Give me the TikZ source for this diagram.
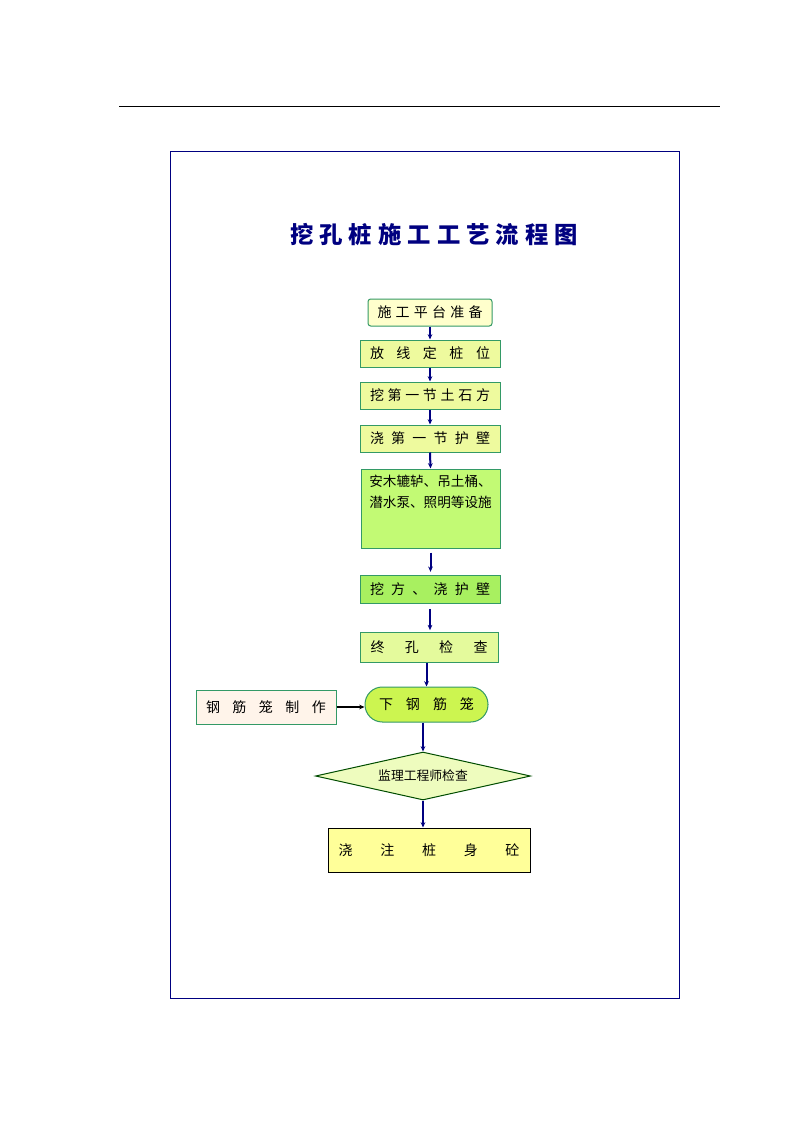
\documentclass[tikz,border=0pt]{standalone}
\usepackage{fontspec}
\newfontfamily\cjk{Noto Sans CJK SC}
\usetikzlibrary{arrows.meta}
\usetikzlibrary{shapes.geometric}
\definecolor{navy}{HTML}{000080}
\definecolor{boxline}{HTML}{339966}
\definecolor{paleyellow}{HTML}{FFFFCC}
\definecolor{limepale}{HTML}{EEFA9E}
\definecolor{limemid}{HTML}{C2FA74}
\definecolor{limedeep}{HTML}{A8F060}
\definecolor{limelight}{HTML}{E4FA9C}
\definecolor{limeoval}{HTML}{CCF550}
\definecolor{peach}{HTML}{FFF4EA}
\definecolor{limediamond}{HTML}{EEFCBE}
\definecolor{lemon}{HTML}{FFFF99}
\newcommand\spr[2]{\makebox[#1][s]{#2}}
\tikzset{
	procbox/.style={draw=boxline, line width=0.75pt, inner sep=0pt, fill=limepale,
		font=\cjk\fontsize{10.5pt}{12pt}\selectfont, minimum width=105pt, minimum height=20.25pt},
	flow/.style={draw=navy, line width=1.5pt, -{Stealth[length=4pt,width=3.5pt]}}
}

\begin{document}
\begin{tikzpicture}[x=0.75pt,y=-0.75pt]
		\useasboundingbox (0,0) rectangle (794,1123);
		\draw[line width=0.75pt] (119,107) -- (720,107);
		\draw[navy, line width=0.75pt] (170,152) rectangle (679,998);
		\node[text=navy, font=\cjk\bfseries\fontsize{17.5pt}{20pt}\selectfont] (Title) at (434,235)
			{\spr{216pt}{挖\hfill 孔\hfill 桩\hfill 施\hfill 工\hfill 工\hfill 艺\hfill 流\hfill 程\hfill 图}};
		\node[procbox, fill=paleyellow, rounded corners=2pt, minimum width=93pt] (Platform) at (430,312.5)
			{\spr{78.75pt}{施\hfill 工\hfill 平\hfill 台\hfill 准\hfill 备}};
		\node[procbox] (Layout) at (430,353.5) {\spr{90pt}{放\hfill 线\hfill 定\hfill 桩\hfill 位}};
		\node[procbox] (First dig) at (430,395.5) {\spr{90pt}{挖\hfill 第\hfill 一\hfill 节\hfill 土\hfill 石\hfill 方}};
		\node[procbox] (First wall) at (430,438.5) {\spr{90pt}{浇\hfill 第\hfill 一\hfill 节\hfill 护\hfill 壁}};
		\node[procbox, fill=limemid, minimum width=104.25pt, minimum height=59.25pt, inner ysep=4.5pt] (Facilities) at (430.5,508.5)
			{\parbox[c][50.25pt][t]{96pt}{\centering\fontsize{10.2pt}{15.75pt}\selectfont 安木辘轳、吊土桶、\\潜水泵、照明等设施}};
		\node[procbox, fill=limedeep, minimum height=21pt] (Dig wall) at (430,589)
			{\spr{90pt}{挖\hfill 方\hfill 、\hfill 浇\hfill 护\hfill 壁}};
		\node[procbox, fill=limelight, minimum width=103.5pt, minimum height=22.5pt] (Hole check) at (429,647)
			{\spr{87.75pt}{终\hfill 孔\hfill 检\hfill 查}};
		\node[procbox, fill=limeoval, rounded corners=13pt, minimum width=92.25pt, minimum height=26.25pt] (Lower cage) at (426.5,704.5)
			{\spr{71.25pt}{下\hfill 钢\hfill 筋\hfill 笼}};
		\node[procbox, fill=peach, minimum height=25.5pt] (Cage made) at (266,707)
			{\spr{90pt}{钢\hfill 筋\hfill 笼\hfill 制\hfill 作}};
		\node[procbox, diamond, draw=black!70!green, fill=limediamond, aspect=4.5, minimum width=161.25pt, minimum height=36pt,
			font=\cjk\fontsize{9.6pt}{12pt}\selectfont] (Inspect) at (423,776) {监理工程师检查};
		\node[procbox, draw=black, fill=lemon, minimum width=151.5pt, minimum height=33pt] (Pour) at (429,850)
			{\spr{135.75pt}{浇\hfill 注\hfill 桩\hfill 身\hfill 砼}};
		\draw[flow] (Platform.south) -- (Layout.north);
		\draw[flow] (Layout.south) -- (First dig.north);
		\draw[flow] (First dig.south) -- (First wall.north);
		\draw[flow] (First wall.south) -- (Facilities.north);
		\draw[flow, shorten <=3pt, shorten >=2pt] (Facilities.south) -- (Facilities.south |- Dig wall.north);
		\draw[flow, shorten <=4pt, shorten >=1pt] (Dig wall.south) -- (Dig wall.south |- Hole check.north);
		\draw[flow] (Hole check.south -| Lower cage.north) -- (Lower cage.north);
		\draw[flow] (Lower cage.south -| Inspect.north) -- (Inspect.north);
		\draw[flow] (Inspect.south) -- (Inspect.south |- Pour.north);
		\draw[line width=1.5pt, -{Stealth[length=4pt,width=3.5pt]}] (Cage made.east) -- (Cage made.east -| Lower cage.west);
	\end{tikzpicture}
\end{document}
